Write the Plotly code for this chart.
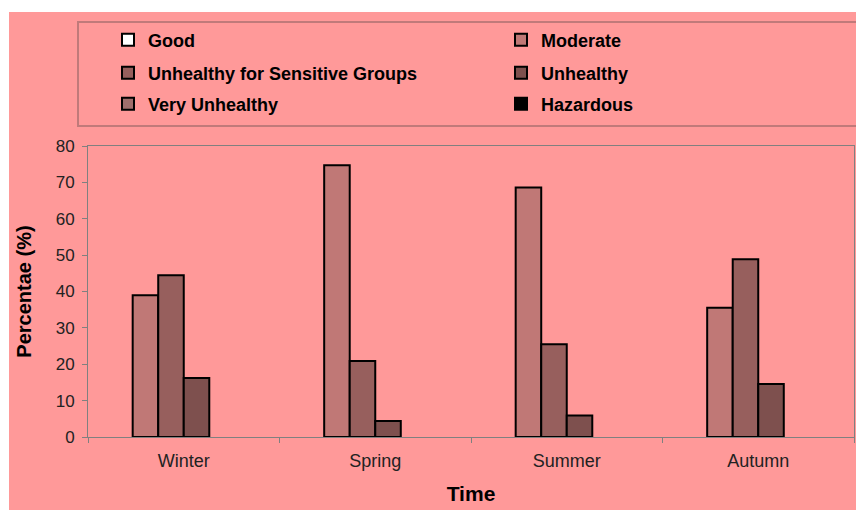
import plotly.graph_objects as go

seasons = ["Winter", "Spring", "Summer", "Autumn"]
series_names = ["Good", "Moderate", "Unhealthy for Sensitive Groups",
                "Unhealthy", "Very Unhealthy", "Hazardous"]
good = [0, 0, 0, 0]
moderate = [39.0, 74.7, 68.6, 35.5]
usg = [44.5, 20.9, 25.5, 48.9]
unhealthy = [16.2, 4.4, 5.9, 14.6]
very_unhealthy = [0, 0, 0, 0]
hazardous = [0, 0, 0, 0]
y_ticks = [0, 10, 20, 30, 40, 50, 60, 70, 80]

values = [good, moderate, usg, unhealthy, very_unhealthy, hazardous]
colors = ["#FFFFFF", "#C07876", "#975F5D", "#7E504E", "#A06E6C", "#000000"]

FONT = "Liberation Sans, Arial, sans-serif"
W, H = 856, 510
L, R, T, B = 88, 2, 146, 73
WL, WR, WT, WB = L, W - R, T, H - B


def px(x):  # pixel -> paper x
    return (x - WL) / (WR - WL)


def py(y):  # pixel -> paper y
    return (WB - y) / (WB - WT)


# legend slot (px): left x, row centre y
leg_pos = [(108, 40), (501, 40), (108, 73), (501, 73), (108, 104), (501, 104)]

fig = go.Figure()
layout_legends = {}
for i, (name, vals, col) in enumerate(zip(series_names, values, colors)):
    lg = "legend" if i == 0 else f"legend{i + 1}"
    fig.add_trace(go.Bar(
        x=seasons, y=[v if v else None for v in vals], name=name, legend=lg,
        marker=dict(color=col, line=dict(color="#000000", width=2)),
    ))
    lx, ly = leg_pos[i]
    layout_legends[lg] = dict(
        x=px(lx), y=py(ly), xanchor="left", yanchor="middle",
        orientation="h", bgcolor="rgba(0,0,0,0)", borderwidth=0,
        font=dict(family=FONT, size=18, color="#000000", weight="bold"),
    )

fig.update_layout(
    width=W, height=H,
    margin=dict(l=L, r=R, t=T, b=B, autoexpand=False),
    showlegend=True,
    paper_bgcolor="#FF9999",
    plot_bgcolor="#FF9999",
    barmode="group", bargap=0.2, bargroupgap=0,
    font=dict(family=FONT, color="#222222"),
    xaxis=dict(
        showline=True, linecolor="#808080", linewidth=1, mirror=True,
        ticks="outside", ticklen=5, tickcolor="#808080", tickson="boundaries",
        showgrid=False, ticklabelstandoff=7,
        tickfont=dict(size=18, color="#222222"),
        title=dict(text="Time", font=dict(size=21, color="#000000", weight="bold"), standoff=16),
    ),
    yaxis=dict(
        range=[0, 80], tickvals=y_ticks,
        showline=True, linecolor="#808080", linewidth=1, mirror=True,
        ticks="outside", ticklen=5, tickcolor="#808080", ticklabelstandoff=4,
        showgrid=False, zeroline=False, tickfont=dict(size=17, color="#222222"),
        title=dict(text="Percentae (%)", font=dict(size=20, color="#000000", weight="bold"), standoff=18),
    ),
    shapes=[
        # white strips at the left and top of the page, as in the reference
        dict(type="rect", xref="paper", yref="paper", layer="below",
             x0=px(-5), x1=px(9), y0=py(H + 5), y1=py(-5),
             fillcolor="#FFFFFF", line=dict(width=0)),
        dict(type="rect", xref="paper", yref="paper", layer="below",
             x0=px(-5), x1=px(W + 5), y0=py(12), y1=py(-5),
             fillcolor="#FFFFFF", line=dict(width=0)),
        dict(type="rect", xref="paper", yref="paper", layer="above",
             x0=px(78), x1=px(W + 20), y0=py(126), y1=py(22),
             fillcolor="rgba(0,0,0,0)", line=dict(color="#C07A7A", width=2)),
    ],
    **layout_legends,
)

fig.write_html(
    "out.html",
    config={"displayModeBar": False},
    post_script="document.body.style.margin='0';"
                "document.documentElement.style.overflow='hidden';",
)
